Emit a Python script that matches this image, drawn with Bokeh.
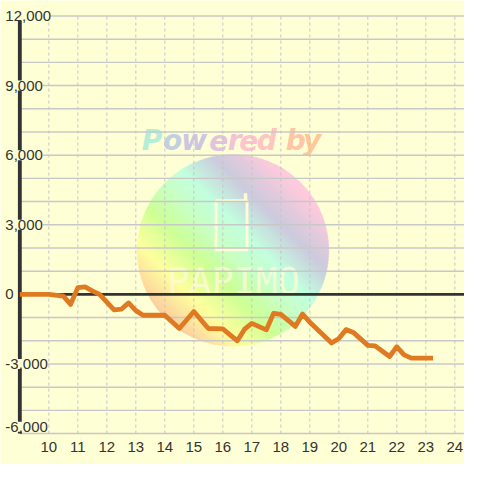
import numpy as np
from bokeh.plotting import figure
from bokeh.models import Range1d, Label
from bokeh.core.properties import value
from bokeh.embed import file_html
from bokeh.resources import INLINE

# ---------------- data ----------------
hours = [9.0, 10.0, 10.5, 10.75, 11.0, 11.25, 11.5, 11.75, 12.25, 12.5, 12.75,
         13.0, 13.25, 14.0, 14.5, 15.0, 15.5, 16.0, 16.5, 16.75, 17.0, 17.5,
         17.75, 18.0, 18.5, 18.75, 19.0, 19.75, 20.0, 20.25, 20.5, 21.0, 21.25,
         21.75, 22.0, 22.25, 22.5, 23.25]
balance = [0, 0, -80, -430, 290, 320, 150, 0, -670, -640, -370,
           -700, -900, -900, -1470, -740, -1470, -1490, -2000, -1500, -1250, -1530,
           -820, -860, -1380, -850, -1200, -2100, -1900, -1520, -1640, -2200, -2220,
           -2680, -2260, -2610, -2750, -2750]

x_ticks = [10, 11, 12, 13, 14, 15, 16, 17, 18, 19, 20, 21, 22, 23, 24]
x_tick_labels = ["10", "11", "12", "13", "14", "15", "16", "17", "18", "19",
                 "20", "21", "22", "23", "24"]
y_ticks = [-6000, -3000, 0, 3000, 6000, 9000, 12000]
y_tick_labels = ["-6,000", "-3,000", "0", "3,000", "6,000", "9,000", "12,000"]
y_grid = [-6000, -5000, -4000, -3000, -2000, -1000, 1000, 2000, 3000, 4000,
          5000, 6000, 7000, 8000, 9000, 10000, 11000, 12000]
x_start, y_top, y_bottom = 9.0, 12000, -6000

# ---------------- layout helpers ----------------
S = 464 / 480.0
BG = "#ffffd6"
INK = "#333333"


def dx(px):
    return 9 + (px - 20) / 30.0


def dy(py):
    return (304 - py) / 0.024


p = figure(width=464, height=464,
           x_range=Range1d(dx(0), dx(480)),
           y_range=Range1d(dy(480), dy(0)),
           output_backend="svg", toolbar_location=None,
           x_axis_location=None, y_axis_location=None,
           min_border=0,
           background_fill_color=BG, border_fill_color=BG,
           outline_line_color=None)
p.xgrid.visible = False
p.ygrid.visible = False

# ---------------- watermark ----------------
cx, cy, r = 240.5, 258.5, 99.0
stops_u = [-1.0, -0.65, -0.3, 0.0, 0.22, 0.55, 0.95, 1.0]
stops_c = [(252, 204, 158), (255, 255, 158), (204, 255, 150), (200, 255, 200),
           (194, 255, 222), (204, 202, 222), (255, 202, 220), (255, 202, 220)]
nb = 70
du = 2 * r / nb
xs_b, ys_b, cols_b = [], [], []
eu = np.array([1, -1]) / np.sqrt(2)
ev = np.array([1, 1]) / np.sqrt(2)
for i in range(nb):
    u0 = -r + i * du
    u1 = min(u0 + du * 1.15, r)
    t = np.linspace(u0, u1, 8)
    v = np.sqrt(np.clip(r * r - t * t, 0, None))
    uu = np.concatenate([t, t[::-1]])
    vv = np.concatenate([v, -v[::-1]])
    px = cx + uu * eu[0] + vv * ev[0]
    py = cy + uu * eu[1] + vv * ev[1]
    xs_b.append([dx(a) for a in px])
    ys_b.append([dy(b) for b in py])
    um = (u0 + du / 2) / r
    c = [int(np.interp(um, stops_u, [s[k] for s in stops_c])) for k in range(3)]
    cols_b.append("#%02x%02x%02x" % tuple(c))
p.patches(xs_b, ys_b, fill_color=cols_b, line_color=cols_b, line_width=0.6)

cream = "#fffbd6"
p.rect(x=[dx(239)], y=[dy(232.5)], width=32 * S, height=51 * S,
       width_units="screen", height_units="screen",
       fill_color=None, line_color=cream, line_width=3 * S)
p.segment(x0=[dx(253.5)], y0=[dy(207)], x1=[dx(253.5)], y1=[dy(199.5)],
          line_color=cream, line_width=3.5 * S)
p.text(x=[dx(241)], y=[dy(291)], text=["PAPIMO"],
       text_font=value("DejaVu Sans Mono"), text_font_size=value(f"{38 * S:.1f}px"),
       text_color=cream, text_alpha=0.75, text_align="center", text_baseline="middle")

pw_chars = ["P", "o", "w", "e", "r", "e", "d", "b", "y"]
pw_left = [146, 168, 187, 216, 235, 247, 265, 295, 313]
pw_cols = ["#b4eed8", "#c0d0e0", "#ccc6e0", "#e2c2dc", "#f4c2d6", "#ffc2d0",
           "#ffc4c4", "#ffc6a6", "#ffc696"]
p.text(x=[dx(a) for a in pw_left], y=[dy(145)] * len(pw_chars), text=pw_chars,
       text_color=pw_cols, text_font=value("DejaVu Sans"),
       text_font_style="bold italic", text_font_size=value(f"{29 * S:.1f}px"),
       text_align="left", text_baseline="alphabetic")

# ---------------- grid ----------------
p.segment(x0=[x_start] * len(y_grid), y0=y_grid, x1=[dx(480)] * len(y_grid), y1=y_grid,
          line_color="#c8c8c8", line_width=1.5 * S)
p.segment(x0=x_ticks, y0=[y_bottom] * len(x_ticks), x1=x_ticks, y1=[y_top] * len(x_ticks),
          line_color="#c4c4c4", line_width=1.0, line_dash="3 3")
p.segment(x0=[x_start], y0=[0], x1=[dx(480)], y1=[0], line_color=INK, line_width=3 * S)
p.segment(x0=[x_start], y0=[y_bottom], x1=[x_start], y1=[y_top],
          line_color=INK, line_width=4 * S)

# ---------------- series ----------------
p.line(hours, balance, line_color="#e07a22", line_width=5 * S,
       line_join="round", line_cap="butt")

# ---------------- y labels ----------------
for v_, t_ in zip(y_ticks, y_tick_labels):
    yy = v_ if v_ > y_bottom else dy(441)
    p.add_layout(Label(x=dx(5), y=yy, text=t_, text_align="left",
                       text_baseline="middle", text_font="Liberation Sans",
                       text_font_size=f"{15.5 * S:.1f}px", text_color=INK,
                       background_fill_color=BG))

# ---------------- x labels ----------------
p.text(x=x_ticks, y=[dy(462)] * len(x_ticks), text=x_tick_labels,
       text_font=value("Liberation Sans"), text_font_size=value(f"{15.5 * S:.1f}px"),
       text_color=INK, text_align="center", text_baseline="middle")

open("out.html", "w").write(file_html(p, INLINE))
